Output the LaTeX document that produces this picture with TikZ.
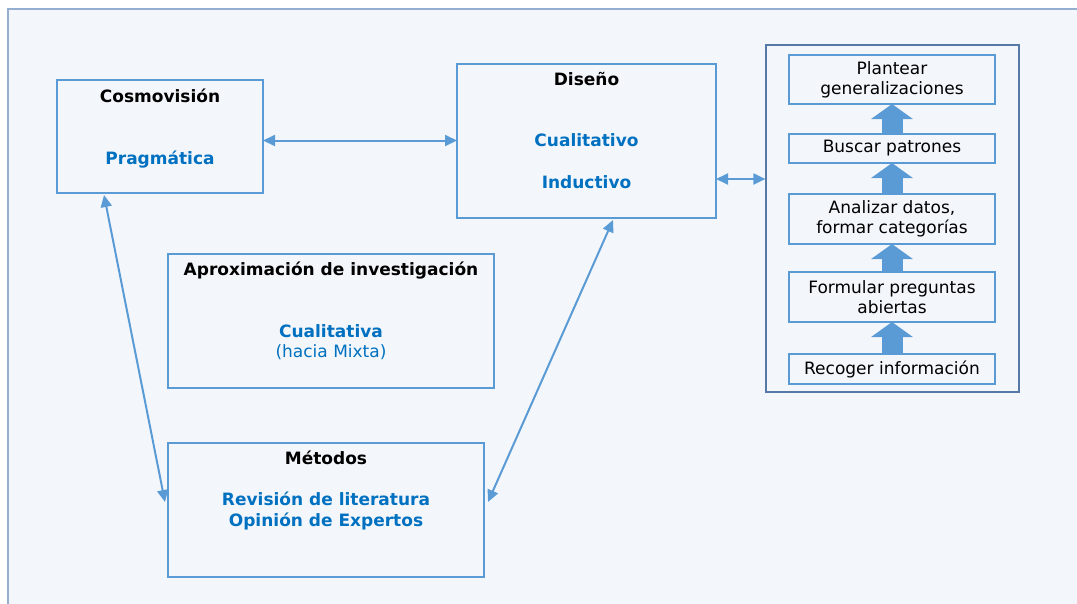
\documentclass[tikz,border=0pt]{standalone}
\usepackage{fontspec}
\setmainfont{DejaVu Sans}
\usetikzlibrary{arrows.meta,calc}
\definecolor{bgc}{HTML}{F3F7FC}
\definecolor{framec}{HTML}{94AED0}
\definecolor{boxc}{HTML}{5B9BD5}
\definecolor{contc}{HTML}{5679A8}
\definecolor{txtblue}{HTML}{0070C0}
\definecolor{arrc}{HTML}{5B9BD5}
\begin{document}
\begin{tikzpicture}[x=1pt,y=-1pt,
  box/.style={draw=boxc,line width=1.2pt,inner sep=0pt,outer sep=0pt},
  stepbox/.style={box,minimum width=206pt,align=center,font=\fontsize{17}{20}\selectfont},
  ttl/.style={anchor=base,inner sep=0pt,font=\fontsize{17}{20}\selectfont\bfseries},
  btxt/.style={anchor=base,inner sep=0pt,text=txtblue,font=\fontsize{17}{20}\selectfont\bfseries},
  ntxt/.style={anchor=base,inner sep=0pt,text=txtblue,font=\fontsize{17}{20}\selectfont},
  dbl/.style={draw=arrc,line width=2pt,{Triangle[length=12pt,width=11pt]}-{Triangle[length=12pt,width=11pt]}},
  blk/.style={draw=arrc,line width=21pt,-{Triangle[length=15pt,width=41pt]}}
]
\useasboundingbox (0,0) rectangle (1077,603);
\clip (0,0) rectangle (1077,603);
\fill[white] (0,0) rectangle (1077,603);
\draw[fill=bgc,draw=framec,line width=1.3pt] (8,9) rectangle (1100,630);

% main boxes
\node[box,minimum width=206pt,minimum height=113pt] (cos) at (160,136.5) {};
\node[box,minimum width=259pt,minimum height=154pt] (dis) at (586.5,141) {};
\node[box,minimum width=326pt,minimum height=134pt] (apr) at (331,321) {};
\node[box,minimum width=316pt,minimum height=134pt] (met) at (326,510) {};
\node[draw=contc,line width=1.2pt,inner sep=0pt,minimum width=253pt,minimum height=347pt] (cont) at (892.5,218.5) {};

% texts
\node[ttl] (cosT) at (160,102) {Cosmovisión};
\node[btxt] (cosA) at (160,164) {Pragmática};
\node[ttl] (disT) at (586.5,85) {Diseño};
\node[btxt] (disA) at (586.5,146.5) {Cualitativo};
\node[btxt] (disB) at (586.5,188) {Inductivo};
\node[ttl] (aprT) at (331,275) {Aproximación de investigación};
\node[btxt] (aprA) at (331,337.5) {Cualitativa};
\node[ntxt] (aprB) at (331,357) {(hacia Mixta)};
\node[ttl] (metT) at (326,464) {Métodos};
\node[btxt] (metA) at (326,505) {Revisión de literatura};
\node[btxt] (metB) at (326,526) {Opinión de Expertos};

% steps
\node[stepbox,minimum height=49pt] (s5) at (892,79.5) {Plantear\\generalizaciones};
\node[stepbox,minimum height=29pt] (s4) at (892,148.5) {Buscar patrones};
\node[stepbox,minimum height=50pt] (s3) at (892,219) {Analizar datos,\\formar categorías};
\node[stepbox,minimum height=50pt] (s2) at (892,297) {Formular preguntas\\abiertas};
\node[stepbox,minimum height=30pt] (s1) at (892,369) {Recoger información};

\draw[blk] (s1.north) -- (s2.south);
\draw[blk] (s2.north) -- (s3.south);
\draw[blk] (s3.north) -- (s4.south);
\draw[blk] (s4.north) -- (s5.south);

% connectors
\draw[dbl] (cos.east |- 0,140.5) -- (dis.west |- 0,140.5);
\draw[dbl] (dis.east |- 0,179) -- (cont.west |- 0,179);
\draw[dbl] ($(cos.south west)+(47,2)$) -- ($(met.west)+(-3,-8)$);
\draw[dbl] ($(dis.south west)+(156,2)$) -- ($(met.east)+(4,-8)$);
\end{tikzpicture}
\end{document}
